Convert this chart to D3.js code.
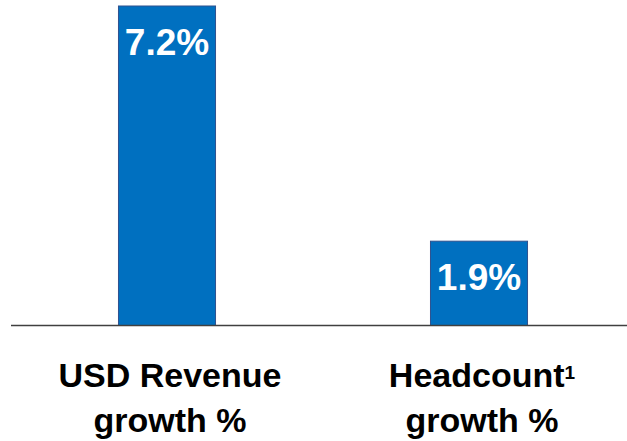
<html>
<head>
<title>Growth</title>
<script src="https://d3js.org/d3.v7.min.js" charset="utf-8"></script>
<style>
body { margin: 0; background: white; }
text { font-family: Arial, "Liberation Sans", sans-serif; font-weight: bold; }
</style>
</head>
<body>
<script>
// data
var categories = ["USD Revenue", "Headcount"];
var values = [7.2, 1.9];
var valueLabels = ["7.2%", "1.9%"];
var labelLines = [["USD Revenue", "growth %"], ["Headcount", "growth %"]];
var labelSup = ["", "1"];

var width = 627, height = 441;
var baseY = 325.5;

var svg = d3.select("body").append("svg")
  .attr("width", width)
  .attr("height", height);

var x = d3.scaleBand()
  .domain(categories)
  .range([11, 635])
  .paddingInner(0.689)
  .paddingOuter(0.3445);

var y = d3.scaleLinear()
  .domain([0, 7.2])
  .range([baseY, 6]);

// bars
svg.selectAll("rect.bar")
  .data(values)
  .enter()
  .append("rect")
  .attr("class", "bar")
  .attr("x", function(d, i) { return x(categories[i]); })
  .attr("y", function(d) { return y(d); })
  .attr("width", x.bandwidth())
  .attr("height", function(d) { return y(0) - y(d); })
  .attr("fill", "#0070C0")
  .attr("stroke", "#2F528F")
  .attr("stroke-width", 1);

// value labels inside bars
svg.selectAll("text.val")
  .data(values)
  .enter()
  .append("text")
  .attr("class", "val")
  .attr("x", function(d, i) { return x(categories[i]) + x.bandwidth() / 2; })
  .attr("y", function(d) { return y(d) + 49; })
  .attr("text-anchor", "middle")
  .attr("fill", "white")
  .style("font-size", "37px")
  .text(function(d, i) { return valueLabels[i]; });

// baseline
svg.append("line")
  .attr("x1", 11).attr("x2", width)
  .attr("y1", baseY).attr("y2", baseY)
  .attr("stroke", "#404040")
  .attr("stroke-width", 1.5);

// category labels
categories.forEach(function(c, i) {
  var cx = x(c) + x.bandwidth() / 2 + 3;
  var t = svg.append("text")
    .attr("x", cx)
    .attr("y", 387)
    .attr("text-anchor", "middle")
    .attr("fill", "black")
    .style("font-size", "34px");
  t.append("tspan").text(labelLines[i][0]);
  if (labelSup[i]) {
    t.append("tspan")
      .attr("dy", -8)
      .style("font-size", "19px")
      .text(labelSup[i]);
  }
  svg.append("text")
    .attr("x", cx)
    .attr("y", 432)
    .attr("text-anchor", "middle")
    .attr("fill", "black")
    .style("font-size", "34px")
    .text(labelLines[i][1]);
});
</script>
</body>
</html>
